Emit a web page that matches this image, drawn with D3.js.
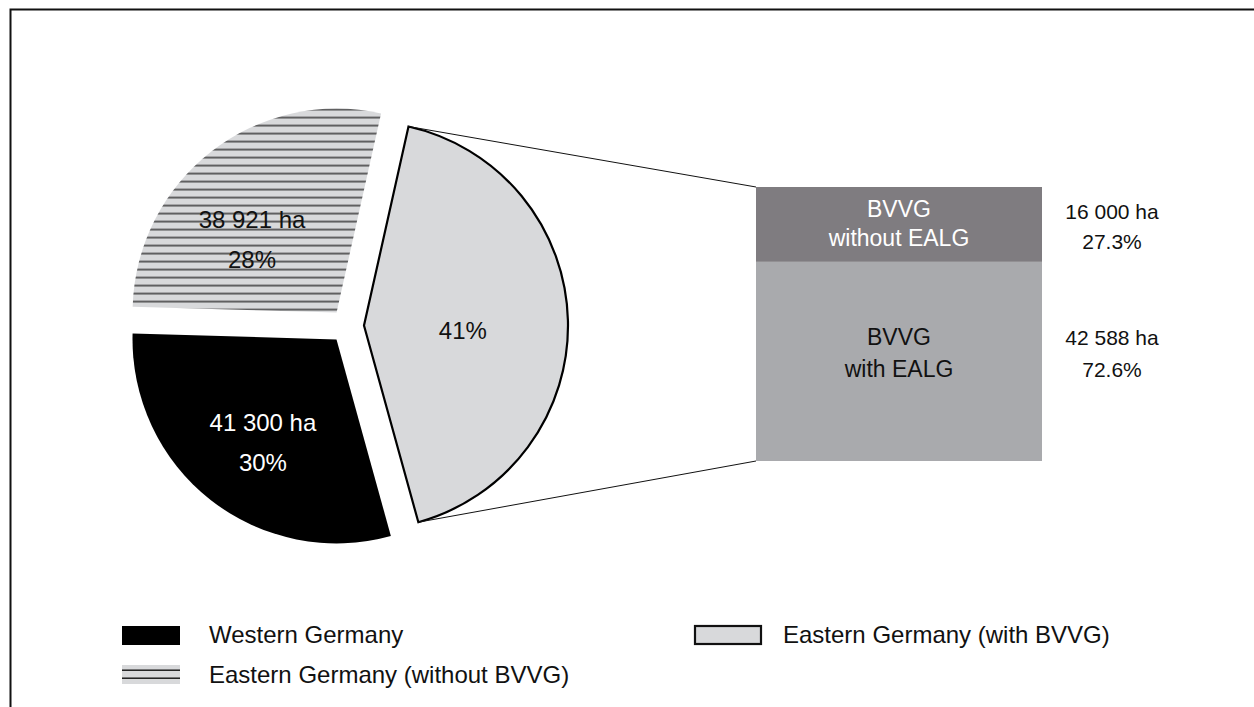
<!DOCTYPE html>
<html><head><meta charset="utf-8">
<script src="https://cdn.jsdelivr.net/npm/d3@7/dist/d3.min.js"></script>
<style>html,body{margin:0;padding:0;background:#fff;}svg{display:block;font-family:"Liberation Sans",Arial,Helvetica,sans-serif;}</style>
</head><body>
<svg id="chart" width="1254" height="707"></svg>
<script>
// ---- data ----
const categories = ["Eastern Germany (with BVVG)", "Western Germany", "Eastern Germany (without BVVG)"];
const areaHa = [58588, 41300, 38921];
const shareLabels = ["41%", "30%", "28%"];
const haLabels = ["", "41 300 ha", "38 921 ha"];
const barCategories = [["BVVG", "with EALG"], ["BVVG", "without EALG"]];
const barHa = [42588, 16000];
const barHaLabels = ["42 588 ha", "16 000 ha"];
const barShareLabels = ["72.6%", "27.3%"];
const legendOrder = ["Western Germany", "Eastern Germany (without BVVG)", "Eastern Germany (with BVVG)"];

// ---- layout ----
const W = 1254, H = 707;
const svg = d3.select("#chart");
const deg = Math.PI / 180;
const C = {x: 347, y: 326}, R = 204, explode = 17;
const startDeg = 12.6;
const fills = ["#d8d9db", "#000000", "url(#hatch)"];
const labelPolar = [{a: 93, r: 99}, {a: 215.4, r: 127}, {a: 311, r: 112}];
const labelColors = ["#111", "#fff", "#111"];

const defs = svg.append("defs");
const pat = defs.append("pattern").attr("id", "hatch").attr("patternUnits", "userSpaceOnUse")
  .attr("width", 8).attr("height", 8);
pat.append("rect").attr("width", 8).attr("height", 8).attr("fill", "#d8d9db");
pat.append("rect").attr("x", 0).attr("y", 4.4).attr("width", 8).attr("height", 1.2).attr("fill", "#111");

// frame
svg.append("path").attr("d", `M10.5,${H} L10.5,9.5 L${W},9.5`).attr("fill", "none")
  .attr("stroke", "#111").attr("stroke-width", 2);

const pie = d3.pie().sort(null).value(d => d)
  .startAngle(startDeg * deg).endAngle(startDeg * deg + 2 * Math.PI);
const arcs = pie(areaHa);
const arcGen = d3.arc().innerRadius(0).outerRadius(R);

const offsets = arcs.map(a => {
  const m = (a.startAngle + a.endAngle) / 2;
  return {x: C.x + Math.sin(m) * explode, y: C.y - Math.cos(m) * explode};
});

const g = svg.append("g");
arcs.forEach((a, i) => {
  g.append("path").attr("d", arcGen(a))
    .attr("transform", `translate(${offsets[i].x},${offsets[i].y})`)
    .attr("fill", fills[i])
    .attr("stroke", i === 0 ? "#000" : "none")
    .attr("stroke-width", i === 0 ? 2.2 : 0)
    .attr("stroke-linejoin", "miter");
});

// bar of pie
const bar = {x0: 756, x1: 1042, top: 187, bottom: 461};
const total = d3.sum(barHa);
const y = d3.scaleLinear().domain([0, total]).range([bar.bottom, bar.top]);
const stack = [];
let cum = 0;
barHa.forEach((v, i) => { stack.push({v, y0: cum, y1: cum + v, i}); cum += v; });
const barFills = ["#a9aaad", "#7f7c80"];
const barText = ["#111", "#fff"];
stack.forEach(s => {
  svg.append("rect").attr("x", bar.x0).attr("y", y(s.y1))
    .attr("width", bar.x1 - bar.x0).attr("height", y(s.y0) - y(s.y1)).attr("fill", barFills[s.i]);
});

// connector lines from 41% slice arc ends to bar corners
const a0 = arcs[0];
const p1 = {x: offsets[0].x + Math.sin(a0.startAngle) * R, y: offsets[0].y - Math.cos(a0.startAngle) * R};
const p2 = {x: offsets[0].x + Math.sin(a0.endAngle) * R, y: offsets[0].y - Math.cos(a0.endAngle) * R};
svg.append("line").attr("x1", p1.x).attr("y1", p1.y).attr("x2", bar.x0).attr("y2", y(total))
  .attr("stroke", "#111").attr("stroke-width", 1);
svg.append("line").attr("x1", p2.x).attr("y1", p2.y).attr("x2", bar.x0).attr("y2", y(0))
  .attr("stroke", "#111").attr("stroke-width", 1);

// pie labels
arcs.forEach((a, i) => {
  const lp = labelPolar[i];
  const cx = offsets[i].x + Math.sin(lp.a * deg) * lp.r;
  const cy = offsets[i].y - Math.cos(lp.a * deg) * lp.r;
  const lines = haLabels[i] ? [haLabels[i], shareLabels[i]] : [shareLabels[i]];
  lines.forEach((t, k) => {
    const dyy = lines.length === 2 ? (k === 0 ? -20 : 20) : 0;
    svg.append("text").attr("x", cx).attr("y", cy + dyy).attr("dy", "0.35em")
      .attr("text-anchor", "middle").attr("font-size", 24).attr("fill", labelColors[i]).text(t);
  });
});

// bar labels
const barMid = (bar.x0 + bar.x1) / 2;
const inOff = [[75, 107], [22, 51]];
const outOff = [[76, 108], [25, 55]];
stack.forEach(s => {
  const top = y(s.y1);
  barCategories[s.i].forEach((t, k) => {
    svg.append("text").attr("x", barMid).attr("y", top + inOff[s.i][k]).attr("dy", "0.35em")
      .attr("text-anchor", "middle").attr("font-size", 23).attr("fill", barText[s.i]).text(t);
  });
  [barHaLabels[s.i], barShareLabels[s.i]].forEach((t, k) => {
    svg.append("text").attr("x", 1112).attr("y", top + outOff[s.i][k]).attr("dy", "0.35em")
      .attr("text-anchor", "middle").attr("font-size", 21).attr("fill", "#111").text(t);
  });
});

// legend
const lg = svg.append("g");
lg.append("rect").attr("x", 122).attr("y", 626).attr("width", 58).attr("height", 19).attr("fill", "#000");
lg.append("rect").attr("x", 122).attr("y", 665).attr("width", 58).attr("height", 19).attr("fill", "#d8d9db");
[669.5, 677.5].forEach(yy => lg.append("rect").attr("x", 122).attr("y", yy).attr("width", 58).attr("height", 1.4).attr("fill", "#111"));
lg.append("rect").attr("x", 695).attr("y", 626).attr("width", 66).attr("height", 18)
  .attr("fill", "#d8d9db").attr("stroke", "#111").attr("stroke-width", 2.2);
const legPos = [{x: 209, y: 635}, {x: 209, y: 675}, {x: 783, y: 635}];
legendOrder.forEach((t, i) => {
  lg.append("text").attr("x", legPos[i].x).attr("y", legPos[i].y).attr("dy", "0.35em")
    .attr("font-size", 24).attr("fill", "#111").text(t);
});
</script>
</body></html>
